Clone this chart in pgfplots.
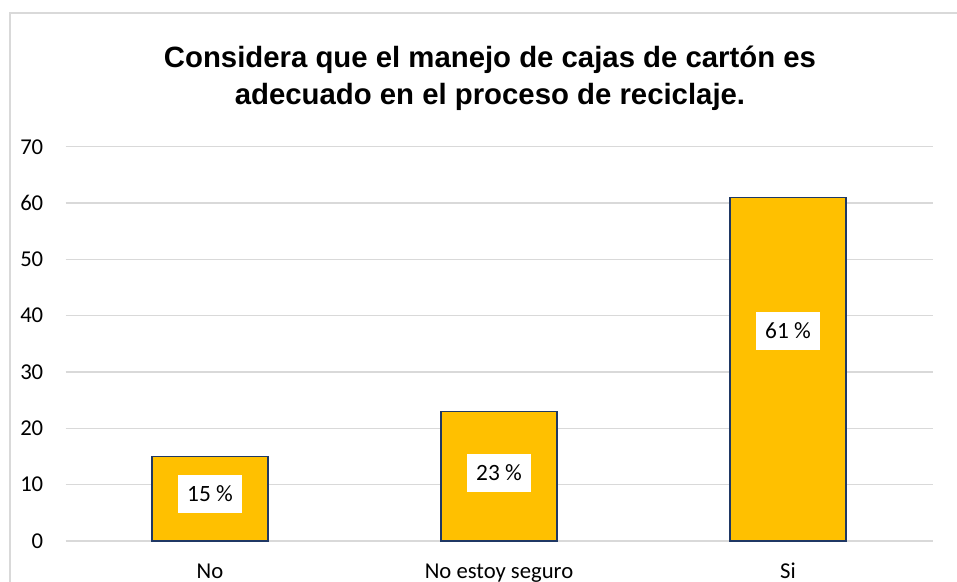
\documentclass[border=0pt]{standalone}
\usepackage{pgfplots}
\pgfplotsset{compat=1.18}
\usepackage{fontspec}
\setmainfont{Carlito}
\newfontfamily\titlefont{Liberation Sans}
\definecolor{barfill}{HTML}{FFC000}
\definecolor{bardraw}{HTML}{1F3864}
\definecolor{gridc}{HTML}{D9D9D9}
\begin{document}
\begin{tikzpicture}[x=0.75pt,y=0.75pt]
\clip (0,0) rectangle (957,582);
\fill[white] (0,0) rectangle (957,582);
\draw[gridc, line width=1.5pt] (10,-20) rectangle (980,569);
\node[font=\titlefont\bfseries\fontsize{22}{27.75}\selectfont, align=center, anchor=base] at (490,477) {Considera que el manejo de cajas de cartón es\\adecuado en el proceso de reciclaje.};
\begin{axis}[
  at={(49.125pt,30.75pt)}, anchor=south west,
  scale only axis,
  width=650.25pt, height=295.7pt,
  xmin=-0.5, xmax=2.5, ymin=0, ymax=70,
  xtick={0,1,2}, xticklabels={No, No estoy seguro, Si},
  ytick={0,10,...,70},
  axis line style={draw=none},
  major tick length=0pt,
  ymajorgrids, grid style={gridc, line width=1pt},
  tick label style={font=\fontsize{17}{20}\selectfont},
  /pgf/number format/assume math mode=true,
  xticklabel style={anchor=base, yshift=-27.75pt},
  yticklabel style={anchor=east, inner sep=0pt, xshift=-16.5pt},
  clip=false,
]
\addplot[ybar, bar width=87pt, fill=barfill, draw=bardraw, line width=1.2pt] coordinates {(0,15) (1,23) (2,61)};
\addplot[only marks, mark=none, draw=none, point meta=explicit symbolic,
  nodes near coords,
  nodes near coords style={anchor=center, fill=white, inner xsep=7pt, inner ysep=0pt, minimum height=28.5pt, font=\fontsize{17.5}{20}\selectfont, text=black}]
  coordinates {(0,8.4) [15 \%] (1,12.1) [23 \%] (2,37.3) [61 \%]};
\end{axis}
\end{tikzpicture}
\end{document}
